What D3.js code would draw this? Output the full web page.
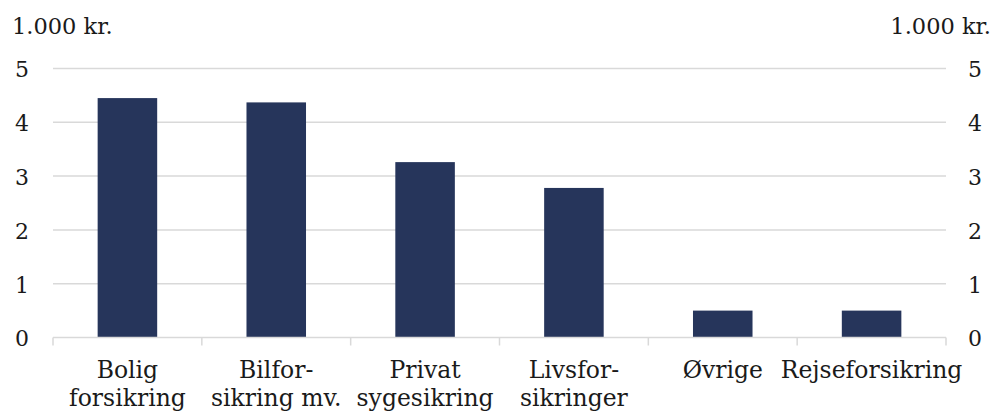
<!DOCTYPE html>
<html>
<head>
<meta charset="utf-8">
<script src="https://cdn.jsdelivr.net/npm/d3@7"></script>
<style>
  html, body { margin: 0; padding: 0; background: #fff; }
  svg { display: block; }
  text { font-family: "DejaVu Serif", Georgia, serif; fill: #1a1a1a; }
</style>
</head>
<body>
<script>
// Gennemsnitlig præmie pr. forsikringstype (1.000 kr.)
const categories = ["Bolig forsikring", "Bilforsikring mv.", "Privat sygesikring", "Livsforsikringer", "Øvrige", "Rejseforsikring"];
const labelLines = [["Bolig", "forsikring"], ["Bilfor-", "sikring mv."], ["Privat", "sygesikring"], ["Livsfor-", "sikringer"], ["Øvrige"], ["Rejseforsikring"]];
const values = [4.45, 4.37, 3.26, 2.78, 0.5, 0.5];
const yTicks = [0, 1, 2, 3, 4, 5];
const unitLabel = "1.000 kr.";

const W = 995, H = 417;
const margin = { left: 53, right: 49, top: 68.5, bottom: 79.5 };

const svg = d3.select("body").append("svg").attr("width", W).attr("height", H);

const x = d3.scaleBand()
  .domain(categories)
  .range([margin.left, W - margin.right])
  .paddingInner(0.6)
  .paddingOuter(0.3);

const y = d3.scaleLinear()
  .domain([0, 5])
  .range([H - margin.bottom, margin.top]);

const catFont = 23.5;
const tickFont = 22;
const unitFont = 22.5;

// Gridlines
svg.append("g")
  .selectAll("line")
  .data(yTicks.filter(d => d > 0))
  .join("line")
  .attr("x1", margin.left)
  .attr("x2", W - margin.right)
  .attr("y1", d => y(d))
  .attr("y2", d => y(d))
  .attr("stroke", "#d9d9d9")
  .attr("stroke-width", 1.5);

// Bars
svg.append("g")
  .selectAll("rect")
  .data(categories)
  .join("rect")
  .attr("x", d => x(d))
  .attr("width", x.bandwidth())
  .attr("y", (d, i) => y(values[i]))
  .attr("height", (d, i) => y(0) - y(values[i]))
  .attr("fill", "#26355b");

// Category axis: baseline with tick marks at band boundaries
const xAxis = svg.append("g");
xAxis.append("line")
  .attr("x1", margin.left)
  .attr("x2", W - margin.right)
  .attr("y1", y(0))
  .attr("y2", y(0))
  .attr("stroke", "#d9d9d9")
  .attr("stroke-width", 1.5);
const boundaries = categories.map(c => x(c) - x.step() * x.paddingInner() / 2);
boundaries[0] = margin.left;
boundaries.push(W - margin.right);
xAxis.selectAll("line.tick")
  .data(boundaries)
  .join("line")
  .attr("class", "tick")
  .attr("x1", d => d)
  .attr("x2", d => d)
  .attr("y1", y(0))
  .attr("y2", y(0) + 8)
  .attr("stroke", "#d9d9d9")
  .attr("stroke-width", 1.5);

// Category labels (one or two lines)
const lab = xAxis.selectAll("text.cat")
  .data(categories)
  .join("text")
  .attr("class", "cat")
  .attr("text-anchor", "middle")
  .attr("font-size", catFont)
  .attr("x", d => x(d) + x.bandwidth() / 2)
  .attr("y", 378);
lab.each(function(d, i) {
  const t = d3.select(this);
  labelLines[i].forEach((line, j) => {
    t.append("tspan")
      .attr("x", x(d) + x.bandwidth() / 2)
      .attr("dy", j === 0 ? 0 : 28)
      .text(line);
  });
});

// Value axes on both sides
const yLabelsLeft = svg.append("g");
yLabelsLeft.selectAll("text")
  .data(yTicks)
  .join("text")
  .attr("x", 22)
  .attr("y", d => y(d))
  .attr("dy", "0.4em")
  .attr("text-anchor", "middle")
  .attr("font-size", tickFont)
  .text(d => d);

const yLabelsRight = svg.append("g");
yLabelsRight.selectAll("text")
  .data(yTicks)
  .join("text")
  .attr("x", 975)
  .attr("y", d => y(d))
  .attr("dy", "0.4em")
  .attr("text-anchor", "middle")
  .attr("font-size", tickFont)
  .text(d => d);

// Unit labels
svg.append("text")
  .attr("x", 12)
  .attr("y", 34)
  .attr("font-size", unitFont)
  .text(unitLabel);
svg.append("text")
  .attr("x", 991)
  .attr("y", 34)
  .attr("text-anchor", "end")
  .attr("font-size", unitFont)
  .text(unitLabel);
</script>
</body>
</html>
